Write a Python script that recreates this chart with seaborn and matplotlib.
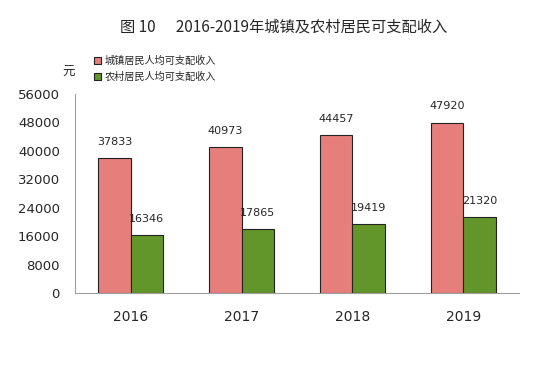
import pandas as pd
import seaborn as sns
import matplotlib.pyplot as plt
from matplotlib.ticker import FixedLocator

years = ['2016', '2017', '2018', '2019']
urban = [37833, 40973, 44457, 47920]
rural = [16346, 17865, 19419, 21320]
series_names = ['城镇居民人均可支配收入', '农村居民人均可支配收入']
colors = ['#E67F7C', '#62962A']

df = pd.DataFrame({
    'year': years * 2,
    'income': urban + rural,
    'kind': [series_names[0]] * 4 + [series_names[1]] * 4,
})

sns.set_style('white')
plt.rcParams['font.family'] = ['Noto Sans CJK SC', 'DejaVu Sans']

fig = plt.figure(figsize=(5.52, 3.83), dpi=100)
ax = fig.add_axes([0.136, 0.235, 0.804, 0.52])

sns.barplot(data=df, x='year', y='income', hue='kind', palette=colors,
            saturation=1, width=0.58, edgecolor='#222222', linewidth=0.8, ax=ax)

for c in ax.containers:
    ax.bar_label(c, fmt='%d', padding=8, fontsize=8, family='DejaVu Sans')

ax.set_xlim(-0.5, 3.5)
ax.set_ylim(0, 56000)
ax.set_yticks(range(0, 56001, 8000))
ax.set_xlabel('')
ax.set_ylabel('')
ax.tick_params(axis='y', length=5, color='#A0A0A0', labelsize=9.5, pad=6)
ax.tick_params(axis='x', length=0, labelsize=10, pad=12)
ax.xaxis.set_minor_locator(FixedLocator([0.5, 1.5, 2.5, 3.5]))
ax.tick_params(axis='x', which='minor', length=5, color='#A0A0A0', direction='out')
for lbl in ax.get_yticklabels() + ax.get_xticklabels():
    lbl.set_family('DejaVu Sans')

for s in ['top', 'right']:
    ax.spines[s].set_visible(False)
ax.spines['left'].set_color('#A0A0A0')
ax.spines['bottom'].set_color('#A0A0A0')

handles, labels = ax.get_legend_handles_labels()
ax.legend_.remove()
fig.legend(handles, labels, loc='upper left', bbox_to_anchor=(0.153, 0.878),
           frameon=False, fontsize=7.3, handlelength=0.75, handleheight=0.75,
           handletextpad=0.35, labelspacing=0.55)

fig.text(0.513, 0.93, '图 10      2016-2019年城镇及农村居民可支配收入',
         ha='center', va='center', fontsize=11, fontweight='medium')
fig.text(0.124, 0.81, '元', ha='center', va='center', fontsize=9)

fig.savefig('out.png', dpi=100)
